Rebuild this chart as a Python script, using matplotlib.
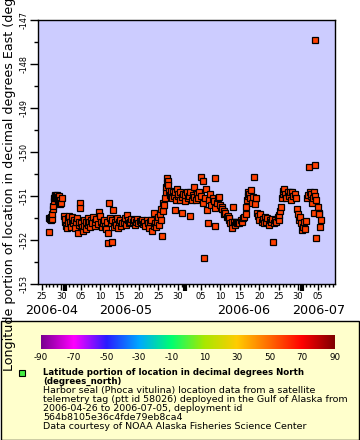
import matplotlib
matplotlib.use("Agg")
import matplotlib.pyplot as plt
import matplotlib.dates as mdates
import matplotlib.transforms as mtransforms
from matplotlib.colors import LinearSegmentedColormap, Normalize
from matplotlib.patches import Rectangle
from datetime import datetime
import numpy as np

# ---------------- data ----------------
# days since 2006-05-01 00:00 (UTC)
day_offset = [
    -4.1, -4.0, -3.9, -3.7, -3.5, -3.4, -3.3, -3.2, -3.0, -2.9, -2.8, -2.7, -2.6, -2.5,
    -2.4, -2.3, -2.2, -2.1, -2.0, -1.9, -1.8, -1.7, -1.6, -1.5, -1.4, -1.2, -1.0, -0.8,
    -0.3, -0.1, 0.1, 0.3, 0.5, 0.7, 0.9, 1.1, 1.3, 1.5, 1.7, 1.9, 2.1, 2.4, 2.6, 2.8,
    3.0, 3.3, 3.5, 3.7, 3.85, 3.9, 4.1, 4.3, 4.6, 4.8, 5.0, 5.3, 5.5, 5.8, 6.0, 6.3,
    6.5, 6.8, 7.0, 7.3, 7.6, 7.8, 8.1, 8.4, 8.7, 8.9, 9.2, 9.4, 9.7, 10.0, 10.3, 10.6,
    10.9, 11.0, 11.1, 11.3, 11.5, 11.8, 12.0, 12.2, 12.3, 12.5, 12.8, 13.0, 13.3, 13.6,
    13.9, 14.2, 14.5, 14.8, 15.1, 15.4, 15.7, 15.9, 16.2, 16.5, 16.8, 17.1, 17.4, 17.7,
    18.0, 18.3, 18.6, 18.9, 19.2, 19.5, 19.8, 20.1, 20.4, 20.7, 21.0, 21.3, 21.6, 21.9,
    22.2, 22.5, 22.8, 23.0, 23.2, 23.5, 23.8, 24.0, 24.2,
    24.4, 24.6, 24.8, 25.0, 25.1, 25.3, 25.5, 25.7, 25.9, 26.0, 26.2, 26.3, 26.5, 26.6,
    26.8, 27.0,
    27.2, 27.4, 27.6, 27.8, 28.0, 28.2, 28.4, 28.6, 28.8, 29.0, 29.2, 29.5, 29.7, 30.0,
    30.2, 30.5, 30.8, 31.0, 31.3, 31.6, 31.9, 32.1, 32.3, 32.6, 32.9, 33.1, 33.3, 33.6,
    33.9, 34.2, 34.5, 34.9, 35.1, 35.4, 35.6, 35.9, 36.1, 36.4, 36.6, 36.8, 37.1, 37.4,
    37.7, 38.0, 38.3, 38.5, 38.6, 38.7, 39.0, 39.3, 39.7,
    40.0, 40.3, 40.5, 40.8, 41.0, 41.3, 41.6, 41.9, 42.1, 42.3, 42.6, 42.9, 43.1, 43.3,
    43.5, 43.8, 44.0, 44.3, 44.6, 44.9, 45.2, 45.5, 45.8,
    46.2, 46.5, 46.7, 46.9, 47.0, 47.2, 47.4, 47.6, 47.9, 48.2, 48.5, 48.7, 49.0, 49.2,
    49.5,
    49.7, 50.0, 50.3, 50.6, 50.9, 51.2, 51.5, 51.8, 52.1, 52.4, 52.7, 53.0, 53.3, 53.6,
    53.8, 54.1, 54.4, 54.7, 55.0, 55.2, 55.4,
    55.6, 55.8, 56.0, 56.2, 56.4, 56.7, 57.0, 57.3, 57.6, 57.9, 58.2, 58.5, 58.8, 59.1,
    59.5, 59.8, 60.1, 60.3, 60.6, 60.8, 61.0, 61.2, 61.5, 61.8, 62.1, 62.3, 62.5, 62.8,
    63.0, 63.2, 63.4, 63.6, 63.8, 64.0, 64.1, 64.3, 64.4, 64.45, 64.5, 64.7, 65.0, 65.3,
    65.5, 65.7, 65.8,
]
longitude = [
    -151.50, -151.82, -151.52, -151.55, -151.48, -151.52, -151.40, -151.30, -151.22, -151.12,
    -151.05, -151.00, -151.02, -150.98, -151.00, -151.05, -151.02, -151.00, -150.98, -151.05,
    -151.10, -151.02, -151.00, -151.12, -151.08, -151.18, -151.15, -151.05,
    -151.45, -151.60, -151.52, -151.68, -151.73, -151.50, -151.62, -151.45, -151.58, -151.70,
    -151.55, -151.48, -151.62, -151.55, -151.72, -151.60, -151.50, -151.85, -151.65, -151.58,
    -151.16, -151.28, -151.62, -151.70, -151.80, -151.55, -151.68, -151.75, -151.60, -151.50,
    -151.65, -151.58, -151.70, -151.55, -151.62, -151.48, -151.68, -151.60, -151.52, -151.63,
    -151.36, -151.45, -151.58, -151.70, -151.62, -151.55, -151.68, -151.75, -151.60, -151.85,
    -152.07, -151.16, -151.50, -151.62, -152.05, -151.55, -151.32, -151.70, -151.58, -151.65,
    -151.50, -151.72, -151.60, -151.55, -151.68, -151.62, -151.58, -151.50, -151.65, -151.43,
    -151.55, -151.62, -151.58, -151.52, -151.60, -151.55, -151.65, -151.58, -151.52, -151.62,
    -151.57, -151.60, -151.55, -151.63, -151.58, -151.68, -151.55, -151.62, -151.72, -151.60,
    -151.55, -151.80, -151.68, -151.38, -151.62, -151.70, -151.58, -151.48, -151.65,
    -151.40, -151.30, -151.55, -151.92, -151.16, -151.35, -151.20, -151.05, -150.90, -150.80,
    -150.70, -150.60, -150.65, -150.75, -150.88, -150.98,
    -150.95, -150.88, -151.05, -150.92, -151.00, -151.32, -150.90, -151.08, -150.85, -151.00,
    -150.95, -151.10, -150.90, -151.38, -151.02, -150.95, -151.12, -150.98, -150.90, -151.05,
    -151.00, -150.92, -151.45, -151.08, -150.98, -151.02, -150.80, -151.10, -150.95, -151.05,
    -150.90, -150.57, -151.00, -150.65, -151.15, -152.41, -151.05, -150.84, -151.32, -151.61,
    -151.10, -150.95, -151.20, -151.05, -151.12, -150.59, -151.27, -151.68, -151.15, -151.05,
    -151.02,
    -151.20, -151.25, -151.30, -151.40, -151.35, -151.38, -151.48, -151.45, -151.55, -151.50,
    -151.62, -151.58, -151.73, -151.25, -151.60, -151.65, -151.58, -151.62, -151.60, -151.61,
    -151.55, -151.58, -151.50,
    -151.48, -151.40, -151.25, -151.10, -151.00, -150.90, -150.95, -151.05, -150.86, -151.15,
    -151.02, -150.57, -151.18, -151.05, -151.38,
    -151.45, -151.55, -151.42, -151.60, -151.52, -151.62, -151.48, -151.58, -151.50, -151.65,
    -151.55, -151.60, -151.52, -152.05, -151.62, -151.55, -151.60, -151.48, -151.55, -151.43,
    -151.35,
    -151.25, -151.05, -150.95, -150.88, -150.84, -150.95, -151.05, -150.90, -151.00, -150.92,
    -151.08, -150.90, -151.00, -150.95, -151.05, -151.30, -151.40, -151.55, -151.48, -151.62,
    -151.77, -151.70, -151.60, -151.75, -151.57, -151.05, -150.98, -150.34, -150.92, -151.00,
    -150.95, -151.16, -151.05, -150.90, -151.38, -151.00, -150.30, -147.45, -151.95, -151.10,
    -151.25, -151.38, -151.42, -151.70, -151.55,
]
latitude_value = 58.3  # typical latitude of the fixes (degrees north), used for colour

y_ticks = [-153, -152, -151, -150, -149, -148, -147]
cbar_ticks = [-90, -70, -50, -30, -10, 10, 30, 50, 70, 90]
month_labels = ["2006-04", "2006-05", "2006-06", "2006-07"]

legend_title = ["Latitude portion of location in decimal degrees North",
                "(degrees_north)"]
legend_lines = [
    "Harbor seal (Phoca vitulina) location data from a satellite",
    "telemetry tag (ptt id 58026) deployed in the Gulf of Alaska from",
    "2006-04-26 to 2006-07-05, deployment id",
    "564b8105e36c4fde79eb8ca4",
    "Data courtesy of NOAA Alaska Fisheries Science Center",
]
ylabel = "Longitude portion of location in decimal degrees East (degrees_east)"

# ---------------- style ----------------
W, H = 360, 440
plt.rcParams['font.family'] = ['DejaVu Sans']
fig = plt.figure(figsize=(W / 100, H / 100), dpi=100)

cmap = LinearSegmentedColormap.from_list("rb", [
    (0.0, "#7a0090"), (0.111, "#ff00ff"), (0.222, "#2a1cff"), (0.333, "#00a8ff"),
    (0.444, "#00ff70"), (0.556, "#a8e800"), (0.667, "#ffcc00"), (0.778, "#ff6a00"),
    (0.889, "#ff0000"), (1.0, "#800000")])
norm = Normalize(-90, 90)

# legend background box (drawn beneath everything else)
fig.patches.append(Rectangle((0.5 / W, 0.5 / H), (W - 1.5) / W, (H - 321) / H - 0.5 / H,
                             transform=fig.transFigure, facecolor="#ffffcc",
                             edgecolor="black", linewidth=1.0, zorder=-5))

ax = fig.add_axes([38 / W, 1 - 284 / H, (335 - 38) / W, (284 - 20) / H])
ax.set_facecolor("#ccccff")

base = mdates.date2num(datetime(2006, 5, 1))
xs = base + np.array(day_offset)
ax.plot(xs, longitude, linestyle="none", marker="s", markersize=4.3,
        markerfacecolor=cmap(norm(latitude_value)), markeredgecolor="black",
        markeredgewidth=0.9)

x0 = base - 6.95
x1 = base + 69.5
ax.set_xlim(x0, x1)
ax.set_ylim(-153, -147)

for s in ax.spines.values():
    s.set_linewidth(1.0)

# y axis
ax.set_yticks(y_ticks)
ax.set_yticklabels([str(v) for v in y_ticks], rotation=90, va="center", fontsize=5.8)
ax.yaxis.set_minor_locator(matplotlib.ticker.MultipleLocator(0.5))
ax.tick_params(axis="y", which="major", length=6, width=1, pad=1, direction="out")
ax.tick_params(axis="y", which="minor", length=3, width=1, direction="out")

# x axis
ax.xaxis.set_major_locator(mdates.DayLocator(bymonthday=[5, 10, 15, 20, 25, 30]))
ax.xaxis.set_major_formatter(mdates.DateFormatter("%d"))
ax.xaxis.set_minor_locator(mdates.DayLocator())
ax.tick_params(axis="x", which="major", length=4, width=1, pad=2, labelsize=6,
               direction="out")
ax.tick_params(axis="x", which="minor", length=2.5, width=1, direction="out")

sec = ax.secondary_xaxis("bottom")
sec.xaxis.set_major_locator(mdates.MonthLocator())
sec.tick_params(axis="x", which="major", length=5, width=3, labelbottom=False,
                direction="out")
sec.spines["bottom"].set_visible(False)

# month labels centred on the visible part of each month
trans = mtransforms.blended_transform_factory(ax.transData, fig.transFigure)
month_starts = [datetime(2006, 4, 1), datetime(2006, 5, 1), datetime(2006, 6, 1),
                datetime(2006, 7, 1), datetime(2006, 8, 1)]
for i, lab in enumerate(month_labels):
    a = max(mdates.date2num(month_starts[i]), x0)
    b = min(mdates.date2num(month_starts[i + 1]), x1)
    ax.text((a + b) / 2, 1 - 311 / H, lab, transform=trans, ha="center", va="center",
            fontsize=9.2, clip_on=False)

fig.text(10 / W, 1 - 151 / H, ylabel, rotation=90, ha="center", va="center",
         fontsize=9.1, zorder=5)

# colorbar
cax = fig.add_axes([41 / W, 1 - 349 / H, 294 / W, 14 / H])
grad = np.linspace(-90, 90, 512).reshape(1, -1)
cax.imshow(grad, aspect="auto", cmap=cmap, norm=norm, extent=[-90, 90, 0, 1])
cax.set_xlim(-90, 90)
cax.set_yticks([])
cax.set_xticks(cbar_ticks)
cax.set_xticklabels([str(v) for v in cbar_ticks])
cax.tick_params(axis="x", length=0, pad=3, labelsize=6.3)
for s in cax.spines.values():
    s.set_visible(False)

# legend
lax = fig.add_axes([0, 0, 1, 1], facecolor="none")
lax.set_axis_off()
lax.set_xlim(0, W)
lax.set_ylim(H, 0)
lax.plot([22], [373], linestyle="none", marker="s", markersize=3.8,
         markerfacecolor="#44ee44", markeredgecolor="black", markeredgewidth=0.8)
y_title = [372.7, 381.7]
for yy, t in zip(y_title, legend_title):
    lax.text(43, yy, t, fontsize=6.2, fontweight="bold", va="center", ha="left")
y_lines = [390.7, 399.7, 408.7, 417.7, 426.7]
for yy, t in zip(y_lines, legend_lines):
    lax.text(43, yy, t, fontsize=6.8, va="center", ha="left")

fig.savefig("out.png", dpi=100)
